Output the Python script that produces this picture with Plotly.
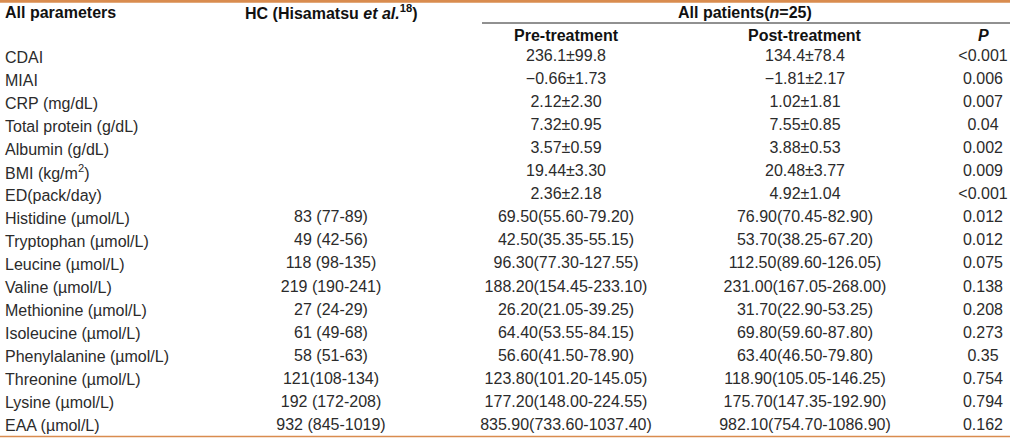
import plotly.graph_objects as go

parameters = ["CDAI", "MIAI", "CRP (mg/dL)", "Total protein (g/dL)", "Albumin (g/dL)",
              "BMI (kg/m<sup>2</sup>)", "ED(pack/day)", "Histidine (µmol/L)", "Tryptophan (µmol/L)",
              "Leucine (µmol/L)", "Valine (µmol/L)", "Methionine (µmol/L)", "Isoleucine (µmol/L)",
              "Phenylalanine (µmol/L)", "Threonine (µmol/L)", "Lysine (µmol/L)", "EAA (µmol/L)"]
hc_values = ["", "", "", "", "", "", "", "83 (77-89)", "49 (42-56)", "118 (98-135)",
             "219 (190-241)", "27 (24-29)", "61 (49-68)", "58 (51-63)", "121(108-134)",
             "192 (172-208)", "932 (845-1019)"]
pre_values = ["236.1±99.8", "−0.66±1.73", "2.12±2.30", "7.32±0.95", "3.57±0.59", "19.44±3.30",
              "2.36±2.18", "69.50(55.60-79.20)", "42.50(35.35-55.15)", "96.30(77.30-127.55)",
              "188.20(154.45-233.10)", "26.20(21.05-39.25)", "64.40(53.55-84.15)",
              "56.60(41.50-78.90)", "123.80(101.20-145.05)", "177.20(148.00-224.55)",
              "835.90(733.60-1037.40)"]
post_values = ["134.4±78.4", "−1.81±2.17", "1.02±1.81", "7.55±0.85", "3.88±0.53", "20.48±3.77",
               "4.92±1.04", "76.90(70.45-82.90)", "53.70(38.25-67.20)", "112.50(89.60-126.05)",
               "231.00(167.05-268.00)", "31.70(22.90-53.25)", "69.80(59.60-87.80)",
               "63.40(46.50-79.80)", "118.90(105.05-146.25)", "175.70(147.35-192.90)",
               "982.10(754.70-1086.90)"]
p_values = ["<0.001", "0.006", "0.007", "0.04", "0.002", "0.009", "<0.001", "0.012", "0.012",
            "0.075", "0.138", "0.208", "0.273", "0.35", "0.754", "0.794", "0.162"]

header_top = ["All parameters", "HC (Hisamatsu <i>et al.</i><sup>18</sup>)", "All patients(<i>n</i>=25)"]
header_sub = ["Pre-treatment", "Post-treatment", "<i>P</i>"]

W, H = 1010, 438
row0_px, row_h = 57.0, 23.05
def ypx(p):
    return (p - row0_px) / row_h

FONT = "Liberation Sans, Arial, sans-serif"
TXT = "#2b2b2b"
ORANGE = "#D98C4F"
FS = 16

x_param = 3
x_hc, x_pre, x_post, x_p = 331, 566, 805, 983

fig = go.Figure()
rows = list(range(len(parameters)))

for xx, vals in [(x_hc, hc_values), (x_pre, pre_values), (x_post, post_values), (x_p, p_values)]:
    idx = [i for i in rows if vals[i]]
    fig.add_trace(go.Scatter(x=[xx] * len(idx), y=idx, text=[vals[i] for i in idx], mode="text",
                             textposition="middle center",
                             textfont=dict(family=FONT, size=FS, color=TXT),
                             hoverinfo="skip", showlegend=False))

annotations = []
for i, name in enumerate(parameters):
    annotations.append(dict(x=x_param, y=i, xref="x", yref="y", text=name, showarrow=False,
                            xanchor="left", yanchor="middle",
                            font=dict(family=FONT, size=FS, color=TXT)))

bold = dict(family=FONT, size=FS, color="#111111")
y_h1 = ypx(12)
y_h2 = ypx(35)
annotations.append(dict(x=x_param, y=y_h1, text="<b>" + header_top[0] + "</b>", showarrow=False,
                        xanchor="left", yanchor="middle", font=bold))
annotations.append(dict(x=x_hc, y=y_h1, text="<b>" + header_top[1] + "</b>", showarrow=False,
                        xanchor="center", yanchor="middle", font=bold))
annotations.append(dict(x=745, y=y_h1, text="<b>" + header_top[2] + "</b>", showarrow=False,
                        xanchor="center", yanchor="middle", font=bold))
for xx, t in zip([x_pre, x_post, x_p], header_sub):
    annotations.append(dict(x=xx, y=y_h2, text="<b>" + t + "</b>", showarrow=False,
                            xanchor="center", yanchor="middle", font=bold))

shapes = [
    dict(type="line", x0=0, x1=W, y0=ypx(1.2), y1=ypx(1.2), xref="x", yref="y",
         line=dict(color=ORANGE, width=3)),
    dict(type="line", x0=482, x1=W, y0=ypx(23), y1=ypx(23), xref="x", yref="y",
         line=dict(color="#222222", width=1)),
    dict(type="line", x0=0, x1=W, y0=ypx(436.5), y1=ypx(436.5), xref="x", yref="y",
         line=dict(color=ORANGE, width=1.5)),
]

fig.update_layout(
    width=W, height=H, margin=dict(l=0, r=0, t=0, b=0),
    paper_bgcolor="white", plot_bgcolor="white",
    xaxis=dict(range=[0, W], visible=False, fixedrange=True),
    yaxis=dict(range=[ypx(H), ypx(0)], visible=False, fixedrange=True),
    annotations=annotations, shapes=shapes, showlegend=False,
)

fig.write_html("out.html", config={"displayModeBar": False},
               post_script="document.body.style.margin='0';document.body.style.padding='0';"
                           "document.body.style.overflow='hidden';")
